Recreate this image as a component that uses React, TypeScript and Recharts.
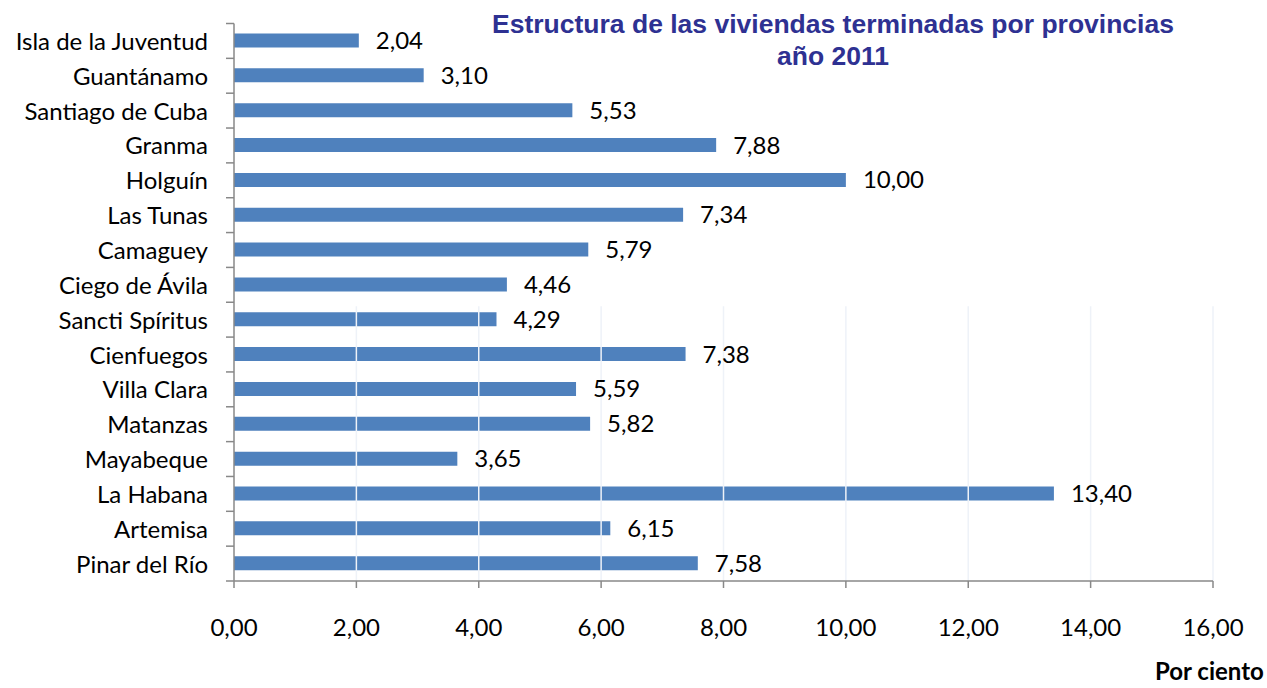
import React from "react";
import { BarChart, Bar, XAxis, YAxis, LabelList, ReferenceLine } from "recharts";

const provinces = [
  "Isla de la Juventud",
  "Guantánamo",
  "Santiago de Cuba",
  "Granma",
  "Holguín",
  "Las Tunas",
  "Camaguey",
  "Ciego de Ávila",
  "Sancti Spíritus",
  "Cienfuegos",
  "Villa Clara",
  "Matanzas",
  "Mayabeque",
  "La Habana ",
  "Artemisa",
  "Pinar del Río",
];
const values = [2.04, 3.1, 5.53, 7.88, 10.0, 7.34, 5.79, 4.46, 4.29, 7.38, 5.59, 5.82, 3.65, 13.4, 6.15, 7.58];
const xTicks = [0, 2, 4, 6, 8, 10, 12, 14, 16];
const gridTicks = [2, 4, 6, 8, 10, 12, 14, 16];

const data = provinces.map((p, i) => ({ name: p, value: values[i] }));

const fmt = (v: number) => v.toFixed(2).replace(".", ",");

const LABEL_FONT = "Lato, 'Open Sans', sans-serif";
const TITLE_FONT = "'Liberation Sans', Arial, sans-serif";
const AXIS_COLOR = "#888888";

const YTick = (props: any) => {
  const { x, y, payload, index } = props;
  const half = payload && payload.offset ? payload.offset : 17.4;
  const axisX = x + 8;
  return (
    <g>
      <line x1={axisX - 8} x2={axisX} y1={y - half} y2={y - half} stroke={AXIS_COLOR} strokeWidth={1.5} />
      {index === provinces.length - 1 && (
        <line x1={axisX - 8} x2={axisX} y1={y + half} y2={y + half} stroke={AXIS_COLOR} strokeWidth={1.5} />
      )}
      <text x={x - 18} y={y} dy={9} textAnchor="end" fontFamily={LABEL_FONT} fontSize={24} fill="#000">
        {payload.value}
      </text>
    </g>
  );
};

const GridShape = (props: any) => {
  const { x1, y1, x2, y2 } = props;
  const band = (y2 - y1) / 7;
  return <line x1={x1} x2={x2} y1={y1 + 4} y2={y2 + band} stroke="#EEF2F8" strokeWidth={1.5} />;
};

export default function App() {
  return (
    <div style={{ position: "absolute", left: 0, top: 0, width: 1267, height: 688, background: "#fff" }}>
      <BarChart
        width={1267}
        height={688}
        data={data}
        layout="vertical"
        margin={{ top: 23.5, right: 54, bottom: 47, left: 0 }}
        barSize={14}
      >
        {gridTicks.map((t) => (
          <ReferenceLine
            key={t}
            position="start"
            segment={[
              { x: t, y: "Sancti Spíritus" },
              { x: t, y: "Pinar del Río" },
            ]}
            shape={GridShape}
          />
        ))}
        <XAxis
          type="number"
          domain={[0, 16]}
          ticks={xTicks}
          tickFormatter={fmt}
          height={60}
          stroke={AXIS_COLOR}
          strokeWidth={1.5}
          tickSize={7}
          tickMargin={31}
          tick={{ fill: "#000", fontSize: 24, fontFamily: LABEL_FONT }}
        />
        <YAxis
          type="category"
          dataKey="name"
          width={234}
          stroke={AXIS_COLOR}
          strokeWidth={1.5}
          tickLine={false}
          tick={<YTick />}
          interval={0}
        />
        <Bar dataKey="value" fill="#4F81BD" isAnimationActive={false}>
          <LabelList
            dataKey="value"
            position="right"
            offset={17}
            formatter={(v: any) => fmt(Number(v))}
            style={{ fill: "#000", fontSize: 24, fontFamily: LABEL_FONT }}
          />
        </Bar>
      </BarChart>
      <div
        style={{
          position: "absolute",
          left: 433,
          top: 8,
          width: 800,
          textAlign: "center",
          fontFamily: TITLE_FONT,
          fontWeight: "bold",
          fontSize: 26.5,
          color: "#2E3192",
          lineHeight: "32px",
          whiteSpace: "nowrap",
        }}
      >
        <div>Estructura de las viviendas terminadas por provincias</div>
        <div>año 2011</div>
      </div>
      <div
        style={{
          position: "absolute",
          left: 1155,
          top: 659,
          fontFamily: LABEL_FONT,
          fontWeight: "bold",
          fontSize: 24,
          lineHeight: "24px",
          color: "#000",
          whiteSpace: "nowrap",
        }}
      >
        Por ciento
      </div>
    </div>
  );
}
